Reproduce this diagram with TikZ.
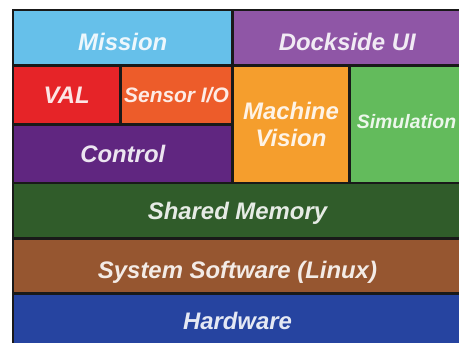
\documentclass[tikz,border=0pt]{standalone}
\usepackage{fontspec}
\setmainfont{Liberation Sans}
\usepackage{xcolor}
\usepackage{tikz}

\definecolor{missionblue}{RGB}{102,192,234}
\definecolor{docksidepurple}{RGB}{143,86,166}
\definecolor{valred}{RGB}{230,36,40}
\definecolor{sensororange}{RGB}{237,92,42}
\definecolor{controlpurple}{RGB}{96,38,128}
\definecolor{visionorange}{RGB}{245,158,45}
\definecolor{simgreen}{RGB}{99,187,92}
\definecolor{memorygreen}{RGB}{48,92,42}
\definecolor{systembrown}{RGB}{150,86,48}
\definecolor{hardwareblue}{RGB}{38,68,160}

\begin{document}
\begin{tikzpicture}[x=1bp,y=-1bp,
                    stackbox/.style={draw=black!90,line width=2.4bp,inner sep=0pt,
                                     fill=#1,text=white!88!#1,align=center,
                                     font=\bfseries\itshape\fontsize{24}{27.5}\selectfont},
                    caps/.style={text height=17bp,text depth=0pt},
                    lowcaps/.style={text height=25bp,text depth=0pt}]
    \useasboundingbox (0,0) rectangle (459,342);
    \clip (0,0) rectangle (459,342);
    % top row
    \node[stackbox=missionblue,lowcaps,minimum width=219.5bp,minimum height=55.5bp]
        (mission) at (122.75,37.75) {Mission};
    \node[stackbox=docksidepurple,lowcaps,minimum width=229.5bp,minimum height=55.5bp]
        (dockside) at (347.25,37.75) {Dockside UI};
    % middle
    \node[stackbox=valred,caps,minimum width=107.5bp,minimum height=59bp]
        (val) at (66.75,95) {VAL};
    \node[stackbox=sensororange,caps,minimum width=112bp,minimum height=59bp,
          font=\bfseries\itshape\fontsize{21}{23}\selectfont,text height=15bp]
        (sensor) at (176.5,95) {Sensor I/O};
    \node[stackbox=controlpurple,caps,minimum width=219.5bp,minimum height=58.5bp]
        (control) at (122.75,153.75) {Control};
    \node[stackbox=visionorange,minimum width=117bp,minimum height=117.5bp]
        (vision) at (291,124.25) {Machine\\Vision};
    \node[stackbox=simgreen,minimum width=114bp,minimum height=117.5bp,
          font=\bfseries\itshape\fontsize{19.5}{22}\selectfont,
          text height=14bp,text depth=6bp]
        (simulation) at (406.5,124.25) {Simulation};
    % base layers
    \node[stackbox=memorygreen,caps,minimum width=449bp,minimum height=55.5bp]
        (memory) at (237.5,210.75) {Shared Memory};
    \node[stackbox=systembrown,lowcaps,minimum width=449bp,minimum height=55bp]
        (system) at (237.5,266) {System Software (Linux)};
    \node[stackbox=hardwareblue,caps,minimum width=449bp,minimum height=55.5bp]
        (hardware) at (237.5,321.25) {Hardware};
\end{tikzpicture}
\end{document}
